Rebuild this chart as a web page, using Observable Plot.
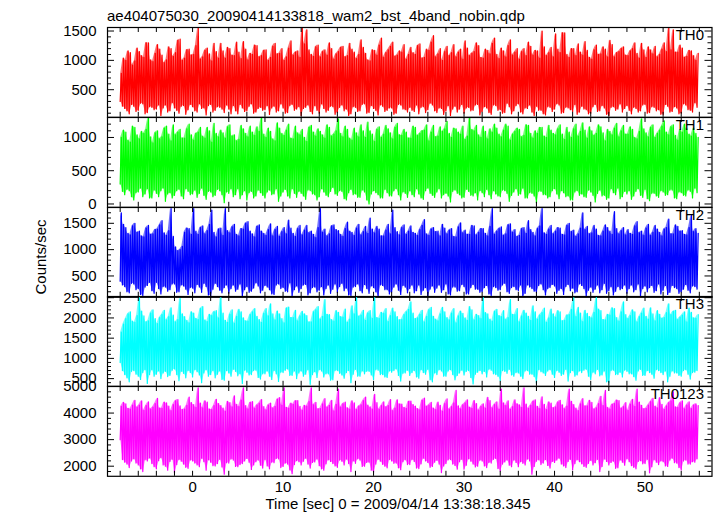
<!DOCTYPE html>
<html><head><meta charset="utf-8">
<script src="https://cdn.jsdelivr.net/npm/d3@7"></script>
<script src="https://cdn.jsdelivr.net/npm/@observablehq/plot@0.6"></script>
<style>
body{margin:0;background:#fff}
#chart{position:relative;width:717px;height:516px;font-family:"Liberation Sans",Arial,sans-serif;overflow:hidden}
#chart svg{position:absolute;left:0;overflow:visible}
</style>
</head><body><div id="chart"></div>
<script>
const title = "ae404075030_20090414133818_wam2_bst_4band_nobin.qdp";
const xLabel = "Time [sec] 0 = 2009/04/14 13:38:18.345";
const yLabel = "Counts/sec";
const panelNames = ["TH0", "TH1", "TH2", "TH3", "TH0123"];
const panelColors = ["#ff0000", "#00ff00", "#0000ff", "#00ffff", "#ff00ff"];
const yDomains = [[30, 1560], [-50, 1300], [95, 1800], [310, 2530], [1620, 5000]];
const yMajorTicks = [[500, 1000, 1500], [0, 500, 1000], [500, 1000, 1500], [500, 1000, 1500, 2000, 2500], [2000, 3000, 4000, 5000]];
const yMinorStep = [100, 100, 100, 100, 200];
const xDomain = [-9.4, 57.4];
const xTicks = [0, 10, 20, 30, 40, 50];
const xMinorTicks = d3.range(-8, 57, 2);
const tStart = -8, tStep = 0.25;

// per 0.25 s bin: upper and lower extent of the curve
const th0Hi = [780,1040,1000,1160,1130,920,990,1210,1150,1080,1050,1300,1300,1010,980,1120,
1270,1190,1090,960,1010,1230,1200,1070,1130,1340,1360,1000,1040,1180,1190,1090,
1100,1250,1550,1020,1060,1170,1210,1110,990,1290,1150,1040,1290,1160,1040,1220,
1200,1090,1080,1310,1140,1030,1320,1190,1010,1120,1100,1260,1250,1060,1080,1170,
1180,1000,1050,1240,1290,1110,1120,1200,1000,1060,1210,1330,1090,1140,1160,1050,
1550,1280,1520,1180,1100,1070,1230,1260,1060,1150,1180,1090,1300,1200,1020,1110,
1150,1220,1240,1060,1080,1290,1190,1140,1030,1100,1350,1220,1120,1010,990,1180,
1170,1090,1260,1380,1050,1130,1180,1240,1310,1070,1090,1160,1140,1270,1020,1100,
1220,1130,1100,1250,1280,1040,1050,1190,1170,1310,1420,1060,1110,1200,1000,1150,
1240,1080,1130,1270,1060,1140,1190,1020,1330,1210,1080,1120,1150,1300,1250,1050,
1040,1190,1170,1110,1290,1380,1100,1030,1210,1160,1060,1250,1350,1090,1140,1200,
1020,1150,1200,1080,1310,1240,1090,1170,1160,1040,1500,1230,1080,1130,1220,1060,
1450,1190,1130,1470,1470,1100,1050,1200,1200,1080,1280,1140,1090,1320,1170,1050,
1020,1180,1260,1100,1110,1230,1190,1060,1340,1270,1060,1130,1150,1200,1230,1090,
1080,1160,1200,1300,1120,1040,1290,1180,1050,1230,1180,1110,1240,1060,1100,1190,
1300,1150,1550,1180,1520,1140,1140,1260,1210,1050,1070,1170,1160,1080,1000,1120];
const th0Lo = [300,220,180,140,90,250,220,130,150,270,260,90,110,210,200,160,
170,240,60,190,240,120,140,280,190,150,100,220,230,80,160,250,
210,140,120,260,180,190,70,230,250,120,150,210,200,170,110,240,
170,90,230,140,90,250,190,130,140,220,260,100,120,180,200,150,
160,230,80,190,220,120,140,260,190,100,110,230,250,150,170,210,
60,180,200,240,130,90,230,150,100,260,180,120,150,220,210,80,
120,200,240,140,170,60,90,210,200,130,140,250,260,100,110,230,
180,150,70,240,220,130,150,190,190,80,100,250,240,170,160,120,
200,150,130,240,90,200,210,110,160,270,240,140,110,190,180,80,
140,230,60,170,220,120,170,250,100,190,200,140,150,240,250,70,
130,210,190,110,80,240,230,150,160,100,110,270,210,90,140,230,
260,120,90,190,180,240,120,60,220,150,150,90,70,210,200,130,
170,260,240,100,110,200,190,160,130,250,80,120,220,170,160,90,
100,210,250,130,140,230,190,80,60,200,210,150,170,260,120,180,
230,150,90,200,180,120,140,240,250,100,110,210,200,140,160,80,
80,250,220,120,130,210,190,90,100,260,240,160,150,120,280,200];

const th1Hi = [1000,1110,1080,960,930,1170,1150,1040,980,1090,1060,1120,1300,1010,920,1070,
1100,980,1010,1140,1170,1050,950,1190,1040,1080,1120,990,990,1130,1200,1040,
960,1060,1080,1150,1020,990,1150,1100,930,1210,1060,1010,1110,1070,990,1160,
1190,1020,1040,950,970,1180,1130,1060,1010,1170,1080,1030,1160,1090,1300,1050,
1000,1140,1090,980,950,1220,1140,1060,1030,1110,1200,990,980,1170,1070,1040,
1120,1000,940,1150,1180,1080,1020,1130,1090,1040,990,1190,1150,1020,1050,1100,
1280,1060,1010,1170,1120,990,960,1140,1070,1010,1190,1100,1000,1230,1100,1050,
940,1120,1160,1000,1050,1180,1130,1070,980,1150,1210,1040,1030,1120,1080,990,
990,1170,1150,1030,1060,1100,1110,1190,950,1080,1180,1010,1020,1160,1090,1130,
1240,1060,1000,1140,1130,1080,1050,1170,970,1020,1300,1120,1100,1180,1040,1000,
1170,1090,980,1130,1080,1200,1140,1050,1010,1110,1200,1170,960,1050,1090,1140,
1120,1010,1030,1190,1180,1060,990,1100,1060,1150,1150,1020,1000,1180,1110,1060,
1040,1130,1190,1050,970,1150,1080,1000,1130,1200,1020,1090,1220,1110,990,1160,
1100,1030,1060,1190,1160,1070,950,1120,1090,1040,1140,1210,1010,1100,1180,1050,
1050,1160,1120,1000,980,1090,1280,1130,1070,1010,1150,1190,1000,1060,1110,1170,
1250,1080,1040,1160,1190,1030,960,1120,1080,1200,1130,1050,1020,1140,1060,1000];
const th1Lo = [300,190,140,220,200,110,60,170,180,240,110,150,230,90,90,210,
160,110,200,240,40,150,170,90,130,200,220,120,80,230,190,140,
150,210,100,160,240,130,70,190,180,110,130,220,200,140,20,180,
160,230,110,140,230,80,140,200,60,170,190,90,120,210,170,130,
90,180,210,140,150,230,40,120,180,220,120,90,230,160,100,190,
160,120,70,210,200,150,140,60,110,230,180,130,110,190,250,150,
130,200,190,80,60,170,220,140,150,100,100,210,180,60,0,150,
200,170,140,90,90,220,170,120,120,200,230,140,60,180,160,100,
200,140,110,230,150,90,70,200,240,160,130,100,180,230,90,140,
160,120,30,190,210,160,140,90,100,220,190,130,120,170,60,200,
170,110,220,140,80,200,150,120,110,210,200,160,40,130,180,230,
130,150,240,90,90,170,160,120,20,190,190,140,140,90,110,200,
230,150,80,200,170,110,120,60,60,180,200,130,150,110,100,210,
180,130,30,160,210,120,130,70,90,230,170,140,240,80,110,190,
150,200,70,120,190,230,130,100,220,80,50,160,160,120,100,200,
180,130,140,210,210,90,80,180,170,130,120,210,190,90,240,170];

const th2Hi = [1700,1480,1420,1310,1280,1450,1500,1330,1350,1260,1240,1410,1460,1290,1300,1380,
1390,1470,1550,1320,1270,1360,1780,1250,1050,980,1000,1060,1330,1410,1400,1290,
1780,1350,1290,1420,1450,1300,1360,1480,1750,1330,1240,1390,1410,1270,1780,1360,
1320,1430,1480,1290,1260,1400,1390,1500,1530,1350,1300,1240,1440,1470,1350,1310,
1270,1380,1490,1260,1380,1440,1250,1340,1420,1300,1560,1410,1310,1250,1400,1460,
1280,1370,1460,1320,1350,1290,1230,1420,1780,1330,1390,1260,1300,1450,1470,1380,
1360,1290,1250,1400,1520,1350,1330,1270,1410,1480,1280,1340,1440,1310,1600,1390,
1320,1440,1390,1260,1260,1370,1480,1300,1750,1420,1340,1280,1420,1470,1290,1350,
1450,1330,1310,1270,1380,1460,1570,1300,1270,1390,1420,1340,1350,1260,1480,1410,
1300,1370,1400,1250,1240,1430,1510,1320,1370,1290,1290,1460,1450,1280,1330,1400,
1400,1310,1260,1440,1780,1290,1350,1400,1430,1270,1300,1470,1490,1330,1380,1250,
1270,1400,1420,1310,1550,1380,1330,1260,1400,1450,1780,1320,1290,1390,1460,1300,
1350,1420,1410,1290,1280,1460,1500,1340,1370,1250,1300,1410,1700,1380,1440,1300,
1320,1460,1390,1270,1260,1350,1470,1420,1350,1290,1720,1400,1300,1360,1420,1280,
1380,1310,1290,1450,1530,1320,1350,1270,1410,1480,1270,1330,1460,1390,1330,1260,
1390,1420,1580,1300,1300,1470,1440,1350,1360,1290,1280,1420,1650,1340,1400,1310];
const th2Lo = [400,330,300,200,180,360,350,240,260,150,130,290,320,380,220,170,
380,260,160,300,290,210,240,350,350,190,200,330,310,250,150,280,
270,180,340,290,190,360,300,140,120,250,360,300,230,180,280,330,
170,260,330,210,250,350,110,240,300,190,210,270,370,310,180,230,
320,290,240,160,150,330,350,260,280,210,200,370,120,240,310,190,
260,330,340,140,180,280,290,200,230,300,140,260,330,170,250,350,
190,300,360,220,270,140,130,290,300,350,220,180,340,260,170,310,
280,200,110,330,320,240,240,160,200,290,350,230,150,320,290,180,
260,330,180,220,330,150,230,280,120,250,310,190,270,330,190,240,
350,160,140,290,290,210,220,340,300,160,160,280,340,250,250,190,
200,280,320,160,130,300,280,230,240,330,360,200,170,280,300,240,
220,330,110,170,330,290,260,210,190,320,350,240,140,260,280,340,
310,170,230,260,150,300,340,220,270,180,200,350,320,260,120,230,
290,190,250,330,180,240,360,170,220,300,140,210,300,240,260,330,
170,260,330,200,240,350,120,260,310,200,280,320,190,220,350,160,
230,320,150,190,320,280,260,170,200,250,340,230,180,310,300,250];

const th3Hi = [1650,1850,1980,2100,2150,1920,1890,2060,2500,2170,2050,1900,1930,2120,2200,1980,
1860,2010,2080,2190,1950,2030,2250,2070,1900,1960,2480,2100,2030,1940,1880,2150,
2120,1990,1960,2230,2280,1950,1910,2090,2060,2150,2180,2000,2500,2120,1940,1890,
2090,2200,1870,2040,2210,2150,2000,1930,1920,2080,2150,2230,2040,1960,1890,2110,
2230,2050,2350,2100,1950,2170,2100,1980,1880,2240,2270,2010,2010,2190,1930,2050,
2160,2100,2060,1900,1900,2150,2200,2280,1970,2040,2450,2090,2080,1960,1920,2180,
2140,2030,2020,2220,1890,1970,2300,2100,2500,2040,2070,2190,1940,2120,2180,1990,
2500,2010,1990,2140,2110,2230,1910,2060,2240,2150,2030,1950,1960,2080,2150,2210,
2400,2120,1980,2000,2090,2190,1900,2040,2200,2260,2040,1970,1930,2100,2260,2150,
2010,1950,2120,2230,1880,2050,2170,2110,2000,1940,2280,2200,1950,2090,2060,1980,
2500,2130,2100,1970,1920,2160,2210,2060,2030,2180,1960,2010,2450,2090,2080,2230,
1900,2050,2190,2120,2040,1940,2300,2150,1970,2070,2130,2240,1890,2000,2220,2100,
2020,2180,2150,1930,1940,2070,2080,2210,2500,2030,2260,2120,1910,2190,2110,2030,
2000,2140,2500,2220,2180,1960,1950,2090,2070,2250,2230,2010,1920,2150,2400,2080,
1980,2060,2200,2150,1900,2030,2120,2240,2040,1970,2250,2100,1930,2180,2090,1990,
2010,2130,2350,2080,2160,2190,1960,2020,2070,2150,1900,2240,2140,2000,1990,2080];
const th3Lo = [900,700,600,520,420,680,700,610,560,480,650,720,380,600,720,560,
610,690,500,640,680,550,580,710,740,600,450,680,630,520,700,650,
540,720,670,590,400,640,720,560,600,700,520,610,690,480,460,700,
640,560,730,680,570,620,380,710,660,590,600,700,710,530,490,620,
620,690,560,480,700,620,430,660,650,710,740,580,580,690,500,640,
690,560,610,720,360,600,670,530,720,690,540,620,620,460,470,700,
700,630,590,510,650,700,400,610,730,560,560,690,620,680,680,590,
480,720,710,600,600,540,530,690,660,700,740,580,440,630,640,710,
580,650,700,540,510,720,650,610,730,470,420,640,600,720,690,560,
560,690,720,600,470,580,640,710,590,680,700,530,370,610,660,700,
620,680,540,730,710,620,600,560,450,700,680,630,730,590,560,650,
640,560,500,690,700,610,610,550,390,720,670,640,580,690,720,610,
530,700,660,580,610,730,440,650,700,560,590,690,650,710,730,560,
480,660,620,730,570,590,690,420,400,700,710,600,600,660,540,710,
680,620,620,550,460,690,730,580,580,700,650,610,510,720,700,650,
600,690,420,560,690,640,640,580,560,700,720,610,490,650,660,700];

const th0123Hi = [4250,4400,4350,4180,4150,4300,4480,4220,4300,4460,4100,4280,4420,4150,4220,4360,
4550,4190,4180,4410,4380,4260,4090,4320,4460,4510,4270,4130,4150,4290,4600,4390,
4320,4210,4950,4370,4200,4460,4410,4150,4130,4280,4520,4360,4280,4190,4070,4440,
4390,4230,4650,4330,4240,4490,4950,4280,4160,4400,4430,4180,4300,4370,4510,4240,
4120,4300,4370,4190,4250,4520,4580,4300,4950,4210,4190,4370,4330,4460,4470,4250,
4110,4290,4260,4430,4950,4310,4400,4160,4170,4350,4540,4220,4290,4480,4080,4330,
4900,4220,4350,4410,4200,4150,4460,4380,4130,4260,4310,4470,4600,4300,4230,4150,
4700,4390,4150,4280,4420,4230,4280,4510,4090,4190,4500,4340,4340,4210,4180,4440,
4450,4320,4260,4170,4120,4480,4560,4250,4300,4400,4190,4130,4410,4290,4070,4360,
4530,4150,4240,4380,4850,4270,4160,4310,4380,4500,4220,4180,4470,4360,4110,4250,
4350,4190,4590,4470,4200,4320,4420,4150,4900,4380,4280,4460,4140,4240,4500,4350,
4310,4210,4950,4340,4180,4290,4440,4500,4250,4170,4610,4330,4130,4420,4370,4200,
4230,4410,4480,4310,4160,4260,4900,4440,4320,4190,4090,4350,4540,4270,4270,4480,
4400,4150,4200,4360,4630,4280,4850,4210,4150,4330,4360,4490,4470,4180,4240,4390,
4100,4340,4520,4250,4900,4410,4290,4160,4180,4300,4430,4550,4260,4200,4580,4330,
4140,4270,4390,4460,4800,4230,4210,4380,4460,4160,4300,4420,4170,4300,4350,4280];
const th0123Lo = [3000,2250,2150,2080,1950,2200,2280,2120,2050,1900,1800,2240,2200,2310,2100,1980,
1900,2210,2320,2050,2000,1850,2180,2260,1750,2060,2250,2190,2080,1960,1920,2230,
2200,2120,2050,1980,2300,2170,1850,2240,2150,2020,2010,2100,2260,1970,1700,2130,
2120,2270,2230,1990,1980,2060,2100,2200,2290,2150,1880,2050,2170,2230,2040,1930,
2250,2010,1900,2150,2130,2290,2280,1950,1990,2120,2080,1860,1720,2060,2210,2170,
2050,2190,2300,2080,1930,2140,2160,2270,2020,1900,1850,2090,2240,2180,2100,2010,
1960,2230,2190,2050,2270,2100,1800,2200,2110,2280,2230,1990,2000,2140,2150,1850,
1780,2080,2260,2190,2070,2000,1940,2250,2200,2110,2120,1940,1870,2170,2240,2060,
2060,2250,2180,1930,1910,2090,2300,2200,2140,1960,1990,2150,2220,2080,1760,2010,
2100,2240,2250,2080,2030,1890,2170,2260,1890,2040,2280,2190,2080,1970,2000,2220,
2200,2010,1950,2140,2120,2260,2290,1910,1820,2080,2160,2230,2040,1980,2230,2140,
1980,2170,2110,2050,2270,2200,1700,1990,2190,2240,2060,2120,2250,2030,1930,2180,
2140,2230,2300,2080,2010,1950,2180,2260,1870,2100,2240,2170,2090,1990,1960,2110,
2220,2050,2130,2260,1800,1990,2270,2180,2050,2140,2190,1920,1940,2230,2150,2040,
2280,2170,2020,1960,1900,2180,2210,2090,2100,2260,1750,1980,2240,2150,2060,2200,
2170,2010,1990,2230,2300,2130,2120,1950,1860,2200,2230,2080,2080,2170,2150,2280];

const highs = [th0Hi, th1Hi, th2Hi, th3Hi, th0123Hi];
const lows = [th0Lo, th1Lo, th2Lo, th3Lo, th0123Lo];

const W = 717, left = 107, right = 711.5;
const panelTops = [27, 116.8, 206.6, 296.4, 386.2, 476];
const font = '"Liberation Sans", Arial, sans-serif';
const chart = document.getElementById("chart");

function series(hi, lo) {
  const rows = [];
  const n = Math.min(hi.length, lo.length);
  for (let i = 0; i < n; i++) {
    const t = tStart + i * tStep;
    rows.push({t, v: lo[i]});
    rows.push({t: t + tStep / 2, v: hi[i]});
  }
  return rows;
}
function bins(hi, lo) {
  const n = Math.min(hi.length, lo.length);
  return d3.range(n).map(i => ({t: tStart + i * tStep + tStep / 4, lo: lo[i], hi: hi[i]}));
}

for (let p = 0; p < 5; p++) {
  const ph = panelTops[p + 1] - panelTops[p];
  const last = p === 4;
  const mb = last ? 40 : 0;
  const [y0, y1] = yDomains[p];
  const minor = d3.range(Math.ceil(y0 / yMinorStep[p]) * yMinorStep[p], y1 + 1e-9, yMinorStep[p])
    .filter(v => !yMajorTicks[p].includes(v));
  const pw = right - left;
  const marks = [
    Plot.areaY(bins(highs[p], lows[p]), {x: "t", y1: "lo", y2: "hi", fill: panelColors[p], fillOpacity: 0.55, clip: true}),
    Plot.line(series(highs[p], lows[p]), {x: "t", y: "v", stroke: panelColors[p], strokeWidth: 1.25, clip: true}),
    Plot.tickY(yMajorTicks[p], {y: d => d, stroke: "#000", insetRight: pw - 7}),
    Plot.tickY(yMajorTicks[p], {y: d => d, stroke: "#000", insetLeft: pw - 7}),
    Plot.tickY(minor, {y: d => d, stroke: "#000", insetRight: pw - 4}),
    Plot.tickY(minor, {y: d => d, stroke: "#000", insetLeft: pw - 4}),
    Plot.tickX(xMinorTicks, {x: d => d, stroke: "#000", insetBottom: ph - 5}),
    Plot.tickX(xMinorTicks, {x: d => d, stroke: "#000", insetTop: ph - 5}),
    Plot.frame({stroke: "#000", strokeWidth: 1.2}),
    Plot.axisY(yMajorTicks[p], {tickSize: 0, tickPadding: 11, fontSize: 15, fill: "#000", label: null, tickFormat: d => String(d)}),
    Plot.text([panelNames[p]], {frameAnchor: "top-right", dx: -8, dy: 2, textAnchor: "end", lineAnchor: "top", fontSize: 15, fill: "#000"})
  ];
  if (last) marks.push(Plot.axisX(xTicks, {tickSize: 0, tickPadding: 5, fontSize: 15, fill: "#000", label: null, tickFormat: d => String(d)}));
  const svg = Plot.plot({
    width: W,
    height: ph + mb,
    marginLeft: left,
    marginRight: W - right,
    marginTop: 0,
    marginBottom: mb,
    x: {domain: xDomain, label: null, axis: null},
    y: {domain: yDomains[p], label: null, axis: null},
    style: {background: "transparent", fontFamily: font, fontSize: "15px", overflow: "visible", color: "#000"},
    marks
  });
  svg.style.top = panelTops[p] + "px";
  chart.appendChild(svg);
}

const ov = d3.create("svg").attr("width", W).attr("height", 516).style("top", "0px").style("pointer-events", "none");
ov.append("text").attr("x", left).attr("y", 20.5).attr("font-family", font).attr("font-size", 15).text(title);
ov.append("text").attr("x", 398).attr("y", 509).attr("text-anchor", "middle").attr("font-family", font).attr("font-size", 15).text(xLabel);
ov.append("text").attr("transform", "translate(46,257) rotate(-90)").attr("text-anchor", "middle").attr("font-family", font).attr("font-size", 15).text(yLabel);
chart.appendChild(ov.node());
</script>
</body></html>
